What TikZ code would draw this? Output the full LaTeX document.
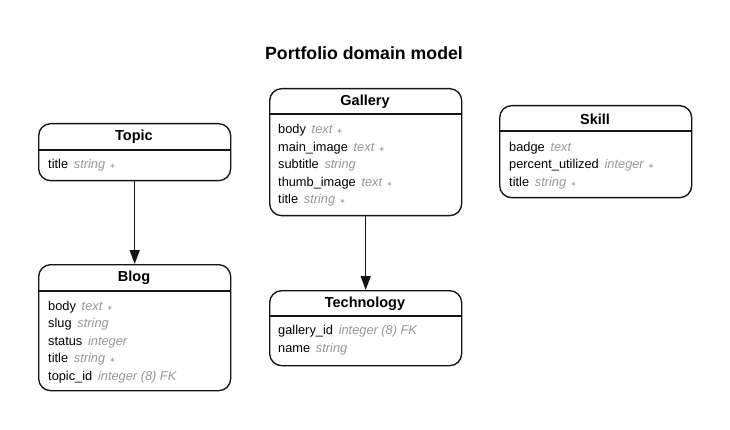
\documentclass[tikz,border=0pt]{standalone}
\usepackage{fontspec}
\setmainfont{Liberation Sans}
\newfontfamily\symf{DejaVu Sans}
\usetikzlibrary{arrows.meta}
\definecolor{typegray}{RGB}{150,150,150}
\definecolor{linecol}{RGB}{20,20,20}
\newcommand{\req}{\hspace{0.35em}{\symf\fontsize{7}{7}\selectfont\color{typegray}∗}}
\newcommand{\att}[2]{#1\hspace{0.45em}{\color{typegray}\itshape #2}}
\begin{document}
\begin{tikzpicture}[x=1pt,y=-1pt,
  entity/.style={draw=linecol, line width=1.35pt, rounded corners=12pt, anchor=north west, minimum width=192pt, inner sep=0pt},
  divider/.style={draw=linecol, line width=1.35pt},
  head/.style={font=\fontsize{14.5}{17}\selectfont\bfseries, anchor=center, inner sep=0pt},
  attr/.style={font=\fontsize{12.8}{15}\selectfont, anchor=base west, inner sep=0pt},
  rel/.style={draw=linecol, line width=1.35pt, -{Triangle[length=14pt,width=10pt]}},
  ttl/.style={font=\fontsize{17.7}{20}\selectfont\bfseries, anchor=center, inner sep=0pt}]
\useasboundingbox (0,0) rectangle (730,430);
\node[ttl] (title) at (364,53) {Portfolio domain model};

% Topic
\node[entity, minimum height=57pt] (topic) at (38,123) {};
\draw[divider] ([yshift=-27pt]topic.north west) -- ([yshift=-27pt]topic.north east);
\node[head] (topich) at (134,137) {Topic};
\node[attr] (topic1) at (48,168.5) {\att{title}{string}\req};

% Blog
\node[entity, minimum height=126pt] (blog) at (38,264) {};
\draw[divider] ([yshift=-27pt]blog.north west) -- ([yshift=-27pt]blog.north east);
\node[head] (blogh) at (134,278) {Blog};
\node[attr] (blog1) at (48,310) {\att{body}{text}\req};
\node[attr] (blog2) at (48,327.5) {\att{slug}{string}};
\node[attr] (blog3) at (48,345) {\att{status}{integer}};
\node[attr] (blog4) at (48,362.5) {\att{title}{string}\req};
\node[attr] (blog5) at (48,380) {\att{topic\_id}{integer (8) FK}};

% Gallery
\node[entity, minimum height=127pt] (gallery) at (269,88) {};
\draw[divider] ([yshift=-26pt]gallery.north west) -- ([yshift=-26pt]gallery.north east);
\node[head] (galleryh) at (365,102) {Gallery};
\node[attr] (gal1) at (278,134) {\att{body}{text}\req};
\node[attr] (gal2) at (278,151.5) {\att{main\_image}{text}\req};
\node[attr] (gal3) at (278,169) {\att{subtitle}{string}};
\node[attr] (gal4) at (278,186.5) {\att{thumb\_image}{text}\req};
\node[attr] (gal5) at (278,204) {\att{title}{string}\req};

% Technology
\node[entity, minimum height=75pt] (tech) at (269,290) {};
\draw[divider] ([yshift=-26pt]tech.north west) -- ([yshift=-26pt]tech.north east);
\node[head] (techh) at (365,304) {Technology};
\node[attr] (tech1) at (278,334) {\att{gallery\_id}{integer (8) FK}};
\node[attr] (tech2) at (278,352.5) {\att{name}{string}};

% Skill
\node[entity, minimum height=92pt] (skill) at (499,105) {};
\draw[divider] ([yshift=-26pt]skill.north west) -- ([yshift=-26pt]skill.north east);
\node[head] (skillh) at (595,119.5) {Skill};
\node[attr] (skill1) at (509,151.5) {\att{badge}{text}};
\node[attr] (skill2) at (509,169) {\att{percent\_utilized}{integer}\req};
\node[attr] (skill3) at (509,186.5) {\att{title}{string}\req};

% Relations
\draw[rel] (topic.south) -- (blog.north);
\draw[rel] (gallery.south) -- (tech.north);
\end{tikzpicture}
\end{document}
